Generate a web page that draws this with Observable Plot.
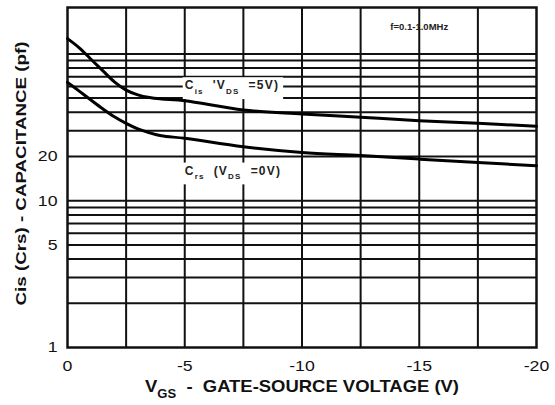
<!DOCTYPE html>
<html>
<head>
<meta charset="utf-8">
<script src="https://cdn.jsdelivr.net/npm/d3@7"></script>
<script src="https://cdn.jsdelivr.net/npm/@observablehq/plot@0.6"></script>
<style>
  html, body { margin: 0; padding: 0; background: #fff; }
  svg { display: block; }
</style>
</head>
<body>
<div id="chart"></div>
<script>
// ---- data ----
const vgs = [0, -0.5, -1, -1.5, -2, -2.5, -3, -3.5, -4, -5, -7.5, -10, -12.5, -15, -17.5, -20];
const cis = [127, 110, 92, 77, 64.5, 56.7, 52.6, 50.4, 49.3, 48, 41.5, 39, 37, 35.1, 33.7, 32.1];
const crs = [64, 55.8, 48.5, 42.3, 37.3, 33.6, 30.8, 29, 27.7, 26.6, 23.3, 21.3, 20.3, 19.2, 18.2, 17.3];

const xTicks = [0, -5, -10, -15, -20];
const xGrid = [-2.5, -5, -7.5, -10, -12.5, -15, -17.5];
const yTicks = [1, 5, 10, 20];
const yGrid = [2, 3, 4, 5, 6, 7, 8, 9, 10, 20, 30, 40, 50, 60, 70, 80, 90, 100];

const curveLabels = ["C_{is}  'V_{DS}  =5V)", "C_{rs}  (V_{DS}  =0V)"];
const labelVgs = [-5, -5];
const labelCap = [61, 16];

const freqNote = ["f=0.1-1.0MHz"];
const freqVgs = [-15];
const freqCap = [152];

const xTitle = "V_{GS}  -  GATE-SOURCE VOLTAGE (V)";
const yTitle = "Cis (Crs) - CAPACITANCE (pf)";

const cisData = vgs.map((v, i) => ({v, c: cis[i]}));
const crsData = vgs.map((v, i) => ({v, c: crs[i]}));

const font = "'Liberation Sans', Arial, Helvetica, sans-serif";

const svg = Plot.plot({
  width: 555,
  height: 405,
  marginLeft: 67,
  marginRight: 19,
  marginTop: 7,
  marginBottom: 58,
  style: {fontFamily: font, color: "#111", background: "#fff"},
  x: {domain: [0, -20], ticks: xTicks, tickFormat: d => String(d), tickSize: 0, tickPadding: 13, label: null},
  y: {type: "log", domain: [1, 207], ticks: yTicks, tickFormat: d => String(d), tickSize: 0, tickPadding: 10, label: null},
  marks: [
    Plot.ruleY(yGrid, {stroke: "#111", strokeWidth: 2}),
    Plot.ruleX(xGrid, {stroke: "#111", strokeWidth: 2}),
    Plot.frame({stroke: "#111", strokeWidth: 2.5}),
    Plot.text(curveLabels, {x: (d, i) => labelVgs[i], y: (d, i) => labelCap[i], text: d => d,
      textAnchor: "start", fontSize: 12, fontWeight: "bold", fill: "#222"}),
    Plot.text(freqNote, {x: (d, i) => freqVgs[i], y: (d, i) => freqCap[i], text: d => d,
      fontSize: 9.5, fontWeight: "bold", fill: "#222"}),
    Plot.line(cisData, {x: "v", y: "c", stroke: "#000", strokeWidth: 3, curve: "catmull-rom"}),
    Plot.line(crsData, {x: "v", y: "c", stroke: "#000", strokeWidth: 3, curve: "catmull-rom"}),
    Plot.text([xTitle], {frameAnchor: "bottom", dy: 44, text: d => d, fontSize: 17, fontWeight: "bold", fill: "#111"}),
    Plot.text([yTitle], {frameAnchor: "left", textAnchor: "middle", rotate: -90, dx: -46, dy: -4, text: d => d, fontSize: 15.5, fontWeight: "bold", fill: "#111"})
  ]
});

d3.select(svg).selectAll("g[aria-label='x-axis tick label'], g[aria-label='y-axis tick label']")
  .attr("font-size", 15);

document.getElementById("chart").appendChild(svg);

// turn "_{..}" into subscripts
const NS = "http://www.w3.org/2000/svg";
function richify(el) {
  const s = el.textContent;
  const fs = parseFloat(el.getAttribute("font-size") || el.parentNode.getAttribute("font-size") || 12);
  const sub = Math.round(fs * 0.7);
  const shift = fs * 0.4;
  el.textContent = "";
  let down = false;
  for (const p of s.split(/(_\{[^}]*\})/)) {
    if (!p) continue;
    const t = document.createElementNS(NS, "tspan");
    if (p.startsWith("_{")) {
      t.textContent = p.slice(2, -1);
      t.setAttribute("font-size", sub);
      t.setAttribute("dy", shift);
      down = true;
    } else {
      t.textContent = p;
      if (down) { t.setAttribute("dy", -shift); down = false; }
    }
    el.appendChild(t);
  }
  el.style.whiteSpace = "pre";
}

function stretch(el, target) {
  el.setAttribute("textLength", target);
  el.setAttribute("lengthAdjust", "spacingAndGlyphs");
}

d3.select(svg).selectAll("text").each(function () {
  const s = this.textContent;
  const isLabel = curveLabels.includes(s);
  if (s.includes("_{")) richify(this);
  if (s === xTitle) stretch(this, 314);
  if (s === yTitle) stretch(this, 264);
  if (isLabel) {
    this.setAttribute("letter-spacing", "1.2");
    const b = this.getBBox();
    const r = document.createElementNS(NS, "rect");
    r.setAttribute("x", b.x - 2);
    r.setAttribute("y", b.y - 1);
    r.setAttribute("width", b.width + 6);
    r.setAttribute("height", b.height + 4);
    r.setAttribute("fill", "#fff");
    const tr = this.getAttribute("transform");
    if (tr) r.setAttribute("transform", tr);
    this.parentNode.insertBefore(r, this);
  }
});

// tick labels are drawn a little wider in the reference
d3.select(svg).selectAll("g[aria-label='x-axis tick label'] text, g[aria-label='y-axis tick label'] text").each(function () {
  stretch(this, this.getComputedTextLength() * 1.18);
});
</script>
</body>
</html>
